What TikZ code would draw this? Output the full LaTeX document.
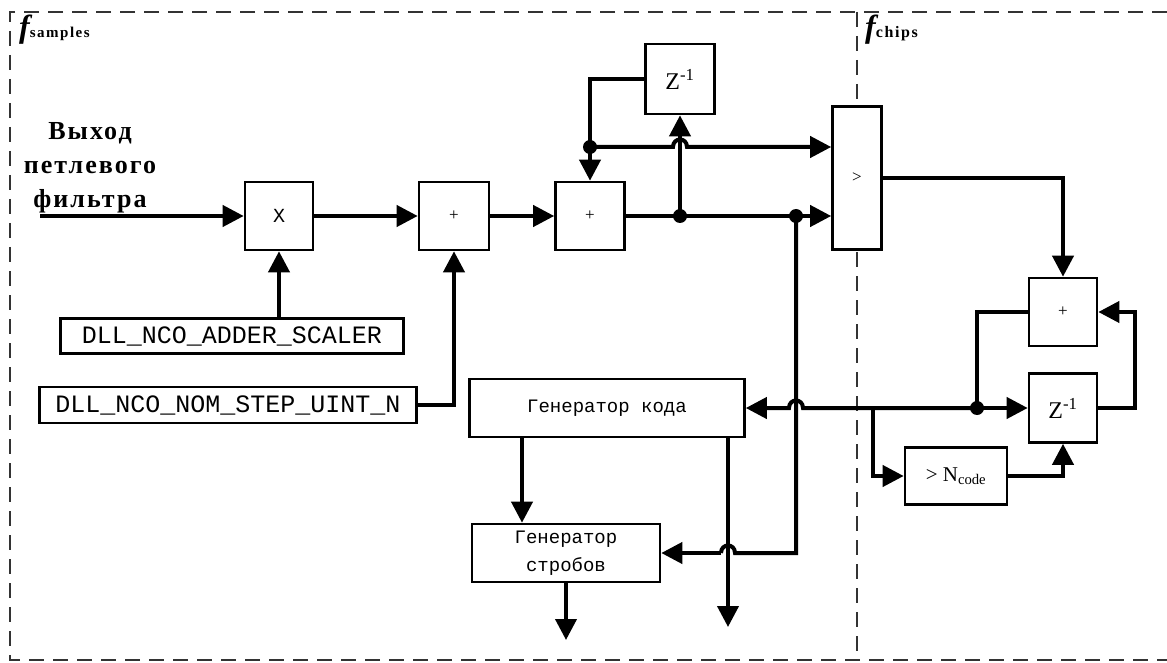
\documentclass[tikz,border=0pt]{standalone}
\usepackage{fontspec}
\setmainfont{Liberation Serif}
\newfontfamily\monofont{Liberation Mono}
\newfontfamily\lblfont[LetterSpace=8]{Liberation Serif}
\newfontfamily\subfont[LetterSpace=10]{Liberation Serif}
\usetikzlibrary{arrows.meta}
\newcommand\dllfont{\monofont\fontsize{25}{28}\selectfont}
\newcommand\genfont{\monofont\fontsize{19}{28}\selectfont}
\begin{document}
\begin{tikzpicture}[x=1pt,y=-1pt,
  blk/.style={draw=black, line width=2.6pt, fill=white, inner sep=0pt, align=center},
  wire/.style={line width=4pt},
  arr/.style={wire, -{Triangle[length=21pt,width=21pt]}},
  jdot/.style={circle, fill=black, inner sep=0pt, minimum size=14pt},
  frame/.style={dash pattern=on 15pt off 9pt, line width=1.6pt, black!80}]
\useasboundingbox (0,0) rectangle (1167,663);
% frames
\draw[frame] (1167,12) -- (10,12) -- (10,660) -- (1167,660);
\draw[frame] (857,12) -- (857,660);
\node[anchor=base west, inner sep=0pt] (fs) at (19,38) {{\fontsize{32}{32}\selectfont\bfseries\itshape f}{\subfont\fontsize{15}{15}\selectfont\bfseries\upshape samples}};
\node[anchor=base west, inner sep=0pt] (fc) at (865,38) {{\fontsize{32}{32}\selectfont\bfseries\itshape f}{\subfont\fontsize{16}{16}\selectfont\bfseries\upshape chips}};
% left label
\node[font=\lblfont\bfseries\fontsize{26}{34}\selectfont, align=center, inner sep=0pt] (lbl) at (90,168) {Выход\\петлевого\\фильтра};
% blocks
\node[blk, minimum width=68pt, minimum height=68pt, font=\monofont\fontsize{20}{22}\selectfont] (mul) at (279,216) {X};
\node[blk, minimum width=70pt, minimum height=68pt, font=\fontsize{17}{18}\selectfont] (add1) at (454,216) {+};
\node[blk, minimum width=69pt, minimum height=68pt, font=\fontsize{17}{18}\selectfont] (add2) at (590,216) {+};
\node[blk, minimum width=69pt, minimum height=70pt, font=\fontsize{24}{26}\selectfont] (dz1) at (680,79) {Z\textsuperscript{-1}};
\node[blk, minimum width=49pt, minimum height=143pt, font=\fontsize{17}{18}\selectfont] (cmp) at (857,178) {>};
\node[blk, minimum width=68pt, minimum height=68pt, font=\fontsize{17}{18}\selectfont] (add3) at (1063,312) {+};
\node[blk, minimum width=68pt, minimum height=69pt, font=\fontsize{24}{26}\selectfont] (dz2) at (1063,408) {Z\textsuperscript{-1}};
\node[blk, minimum width=102pt, minimum height=57pt, font=\fontsize{21}{22}\selectfont] (ncode) at (956,476) {> N\textsubscript{code}};
\node[blk, minimum width=343pt, minimum height=35pt, font=\dllfont] (scaler) at (232,336) {DLL\_NCO\_ADDER\_SCALER};
\node[blk, minimum width=377pt, minimum height=36pt, font=\dllfont] (nomstep) at (228,405) {DLL\_NCO\_NOM\_STEP\_UINT\_N};
\node[blk, minimum width=275pt, minimum height=58pt, font=\genfont] (gencode) at (607,408) {Генератор кода};
\node[blk, minimum width=188pt, minimum height=58pt, font=\genfont] (genstrob) at (566,553) {Генератор\\стробов};
% coordinates
\coordinate (in) at (40,216);
\coordinate (j1) at (680,216);
\coordinate (j2) at (796,216);
\coordinate (j3) at (590,147);
\coordinate (j5) at (977,408);
\coordinate (br) at (873,408);
\coordinate (x1) at (680,147);
\coordinate (x2) at (796,408);
\coordinate (x3) at (728,553);
\coordinate (fb1) at (1135,408);
\coordinate (g1) at (522,437);
\coordinate (g2) at (728,437);
\coordinate (o2) at (728,627);
\coordinate (o1) at (566,640);
% wires
\draw[arr] (in) -- (mul.west);
\draw[arr] (mul.east) -- (add1.west);
\draw[arr] (add1.east) -- (add2.west);
\draw[arr] (mul.south |- scaler.north) -- (mul.south);
\draw[arr] (nomstep.east) -| (add1.south);
\draw[wire] (add2.east) -- (j1) -- (j2);
\draw[arr] (j2) -- (j2 -| cmp.west);
\draw[arr] (j1) -- (dz1.south);
\draw[arr] (dz1.west) -| (j3) -- (add2.north);
\draw[arr] (j3) -- ([xshift=-7pt]x1) .. controls +(0,-10) and +(0,-10) .. ([xshift=7pt]x1) -- (x1 -| cmp.west);
\draw[arr] (cmp.east) -| (add3.north);
\draw[wire] (add3.west) -| (j5);
\draw[arr] (j5) -- (dz2.west);
\draw[arr] (j5) -- ([xshift=7pt]x2) .. controls +(0,-10) and +(0,-10) .. ([xshift=-7pt]x2) -- (gencode.east);
\draw[arr] (br) |- (ncode.west);
\draw[arr] (ncode.east) -| (dz2.south);
\draw[arr] (dz2.east) -- (fb1) |- (add3.east);
\draw[wire] (j2) |- ([xshift=7pt]x3) .. controls +(0,-10) and +(0,-10) .. ([xshift=-7pt]x3);
\draw[arr] ([xshift=-7pt]x3) -- (genstrob.east);
\draw[arr] (g1) -- (g1 |- genstrob.north);
\draw[arr] (g2) -- (o2);
\draw[arr] (genstrob.south -| o1) -- (o1);
% junction dots
\foreach \p in {j1,j2,j3,j5} \node[jdot] at (\p) {};
\end{tikzpicture}
\end{document}
